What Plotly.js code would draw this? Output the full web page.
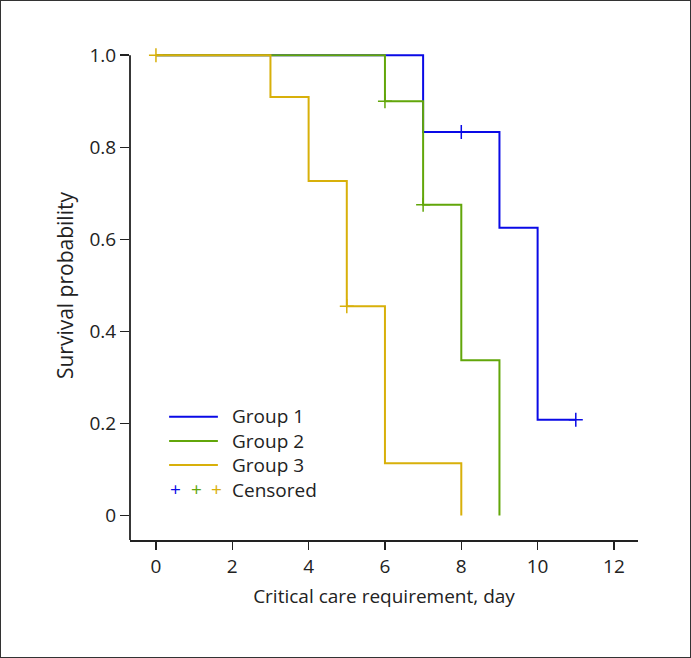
<!DOCTYPE html>
<html>
<head>
<meta charset="utf-8">
<script src="https://cdn.plot.ly/plotly-3.0.1.min.js"></script>
<style>
html,body{margin:0;padding:0;background:#fff;}
#wrap{width:691px;height:658px;box-sizing:border-box;border:1px solid #333;overflow:hidden;}
#chart{width:689px;height:656px;}
</style>
</head>
<body>
<div id="wrap"><div id="chart"></div></div>
<script>
// Kaplan-Meier step data
const groupNames = ["Group 1", "Group 2", "Group 3"];
const groupColors = ["#0a0ae6", "#62a60a", "#d8b00a"];

const g1Time = [0, 7, 8, 9, 10, 11];
const g1Surv = [1.0, 0.833, 0.833, 0.625, 0.208, 0.208];
const g1CensTime = [8, 11];
const g1CensSurv = [0.833, 0.208];

const g2Time = [0, 6, 7, 8, 9];
const g2Surv = [1.0, 0.9, 0.675, 0.3375, 0];
const g2CensTime = [6, 7];
const g2CensSurv = [0.9, 0.675];

const g3Time = [0, 3, 4, 5, 6, 8];
const g3Surv = [1.0, 0.909, 0.727, 0.4545, 0.1136, 0];
const g3CensTime = [0, 5];
const g3CensSurv = [1.0, 0.4545];

const xTicks = [0, 2, 4, 6, 8, 10, 12];
const yTicks = [0, 0.2, 0.4, 0.6, 0.8, 1.0];
const yTickText = ["0", "0.2", "0.4", "0.6", "0.8", "1.0"];

const xTitle = "Critical care requirement, day";
const yTitle = "Survival probability";
const censLabel = "Censored";

const FONT = "Open Sans, Noto Sans, sans-serif";
const FS = 19;
const TXT = "#222";

const series = [
  [g1Time, g1Surv, g1CensTime, g1CensSurv],
  [g2Time, g2Surv, g2CensTime, g2CensSurv],
  [g3Time, g3Surv, g3CensTime, g3CensSurv]
];

const traces = [];
series.forEach((s, i) => {
  traces.push({
    x: s[0], y: s[1], type: "scatter", mode: "lines",
    line: {shape: "hv", color: groupColors[i], width: 2},
    name: groupNames[i], showlegend: false, hoverinfo: "skip"
  });
  traces.push({
    x: s[2], y: s[3], type: "scatter", mode: "markers",
    marker: {symbol: "cross-thin-open", size: 10, color: groupColors[i], line: {color: groupColors[i], width: 1.5}},
    showlegend: false, hoverinfo: "skip", cliponaxis: false
  });
});

const yBottom = -0.053;
const shapes = [
  {type: "line", xref: "paper", yref: "y", x0: 0, x1: 0, y0: yBottom, y1: 1.0,
   line: {color: TXT, width: 1.8}}
];
const annotations = [];

// y-axis title
annotations.push({xref: "paper", yref: "paper", x: -0.128, y: 0.516, text: yTitle,
  textangle: -90, showarrow: false, xanchor: "center", yanchor: "middle",
  font: {family: FONT, size: 21, color: TXT}});

// custom legend
const legX0 = 0.077, legX1 = 0.173, legTextX = 0.196;
const legY = [0.2496, 0.2004, 0.1518, 0.103];
groupNames.forEach((n, i) => {
  shapes.push({type: "line", xref: "paper", yref: "paper", x0: legX0, x1: legX1,
    y0: legY[i], y1: legY[i], line: {color: groupColors[i], width: 2}});
});
annotations.push({xref: "paper", yref: "paper", x: legTextX, y: (legY[0] + legY[3]) / 2,
  text: groupNames.concat([censLabel]).join("<br>"), align: "left",
  showarrow: false, xanchor: "left", yanchor: "middle", font: {family: FONT, size: FS, color: TXT}});
const plusX = [0.090, 0.130, 0.1695];
plusX.forEach((px, i) => {
  annotations.push({xref: "paper", yref: "paper", x: px, y: legY[3], text: "+",
    showarrow: false, xanchor: "center", yanchor: "middle", font: {family: FONT, size: 19, color: groupColors[i]}});
});

const layout = {
  width: 689, height: 656,
  margin: {l: 129, r: 52, t: 45, b: 117},
  paper_bgcolor: "#fff", plot_bgcolor: "#fff",
  font: {family: FONT, size: FS, color: TXT},
  showlegend: false,
  xaxis: {
    range: [-0.68, 12.63], tickvals: xTicks, ticktext: xTicks.map(String),
    showgrid: false, zeroline: false, showline: true, linecolor: TXT, linewidth: 1.8,
    ticks: "outside", ticklen: 8, tickwidth: 1.5, tickcolor: TXT,
    tickfont: {family: FONT, size: FS, color: TXT},
    title: {text: xTitle, font: {family: FONT, size: FS, color: TXT}, standoff: 12}
  },
  yaxis: {
    range: [yBottom, 1.02], tickvals: yTicks, ticktext: yTickText,
    showgrid: false, zeroline: false, showline: false,
    ticks: "outside", ticklen: 9, tickwidth: 1.5, tickcolor: TXT,
    tickfont: {family: FONT, size: FS, color: TXT}
  },
  shapes: shapes,
  annotations: annotations
};

Plotly.newPlot("chart", traces, layout, {displayModeBar: false, staticPlot: true});
</script>
</body>
</html>
